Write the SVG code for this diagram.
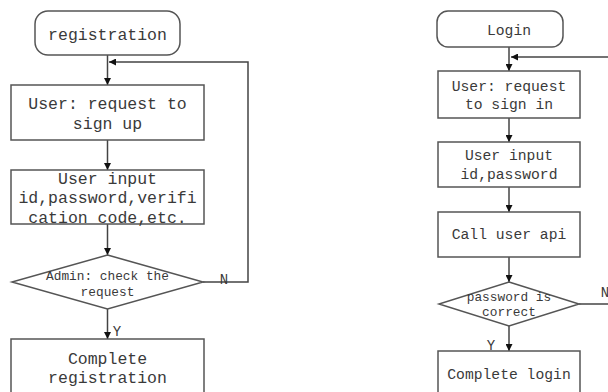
<svg xmlns="http://www.w3.org/2000/svg" width="608" height="392" viewBox="0 0 608 392">
<style>
.b{fill:#fff;stroke:#555;stroke-width:1.5}
.c{fill:none;stroke:#444;stroke-width:1.5}
text{font-family:"Liberation Mono","DejaVu Sans Mono",monospace;fill:#3a3a3a;text-anchor:middle}
.l{font-size:16.5px}
.r{font-size:14.7px}
.d{font-size:12.8px}
.k{font-size:14px}
</style>
<defs>
<marker id="a" viewBox="0 0 10 10" refX="10" refY="5" markerWidth="7" markerHeight="7" markerUnits="userSpaceOnUse" orient="auto"><path d="M0,0L10,5L0,10z" fill="#111"/></marker>
</defs>
<rect width="608" height="392" fill="#fff"/>
<g id="connectors">
<path class="c" d="M107.5,55V85" marker-end="url(#a)"/>
<path class="c" d="M107.5,140V170" marker-end="url(#a)"/>
<path class="c" d="M107.5,224V255" marker-end="url(#a)"/>
<path class="c" d="M107.5,309V339" marker-end="url(#a)"/>
<path class="c" d="M203,282H248V62H109" marker-end="url(#a)"/>
<path class="c" d="M509,47V71" marker-end="url(#a)"/>
<path class="c" d="M509,118V142" marker-end="url(#a)"/>
<path class="c" d="M509,187V212" marker-end="url(#a)"/>
<path class="c" d="M509,257V282" marker-end="url(#a)"/>
<path class="c" d="M509,326V351" marker-end="url(#a)"/>
<path class="c" d="M579,304H612"/>
<path class="c" d="M612,57H511" marker-end="url(#a)"/>
<text class="k" x="224" y="284">N</text>
<text class="k" x="117" y="336">Y</text>
<text class="k" x="605" y="297">N</text>
<text class="k" x="491" y="350">Y</text>
</g>
<g id="reg-start"><rect class="b" x="35" y="11" width="145" height="44" rx="13"/><text class="l" x="107.5" y="39.5">registration</text></g>
<g id="reg-request"><rect class="b" x="11" y="85" width="193" height="55"/><text class="l" x="107.5" y="108.5">User: request to</text><text class="l" x="107.5" y="128.5">sign up</text></g>
<g id="reg-input"><rect class="b" x="11" y="170" width="193" height="54"/><text class="l" x="107.5" y="183.5">User input</text><text class="l" x="107.5" y="202.5">id,password,verifi</text><text class="l" x="107.5" y="223">cation code,etc.</text></g>
<g id="reg-check"><path class="b" d="M107.5,255L203,282L107.5,309L12,282z"/><text class="d" x="107.5" y="279.5">Admin: check the</text><text class="d" x="107.5" y="295.5">request</text></g>
<g id="reg-complete"><rect class="b" x="11" y="339" width="193" height="70"/><text class="l" x="107.5" y="363.5">Complete</text><text class="l" x="107.5" y="382.5">registration</text></g>
<g id="login-start"><rect class="b" x="437" y="11" width="126" height="36" rx="11"/><text class="r" x="509" y="35">Login</text></g>
<g id="login-request"><rect class="b" x="438" y="71" width="142" height="47"/><text class="r" x="509" y="91">User: request</text><text class="r" x="509" y="109">to sign in</text></g>
<g id="login-input"><rect class="b" x="438" y="142" width="142" height="45"/><text class="r" x="509" y="160">User input</text><text class="r" x="509" y="179">id,password</text></g>
<g id="login-api"><rect class="b" x="438" y="212" width="142" height="45"/><text class="r" x="509" y="239">Call user api</text></g>
<g id="login-check"><path class="b" d="M509,282L579,304L509,326L439,304z"/><text class="d" x="509" y="301">password is</text><text class="d" x="509" y="316">correct</text></g>
<g id="login-complete"><rect class="b" x="438" y="351" width="142" height="60"/><text class="r" x="509" y="379">Complete login</text></g>
</svg>
